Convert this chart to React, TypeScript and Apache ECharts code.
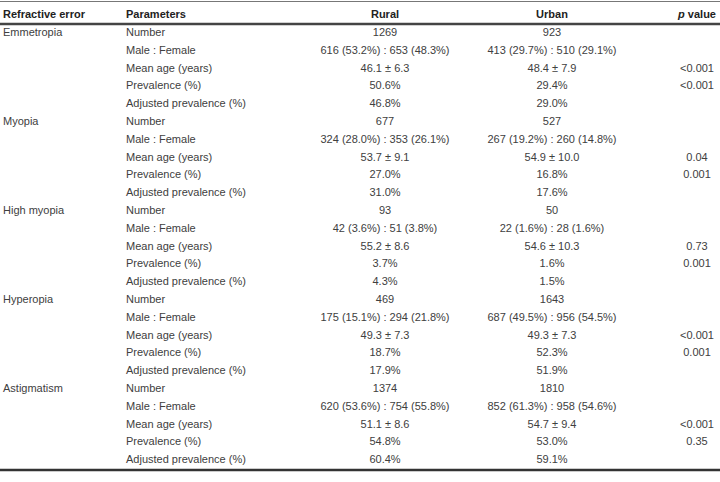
import React, { useEffect, useRef } from "react";
import * as echarts from "echarts";

const headers = ["Refractive error", "Parameters", "Rural", "Urban", "{i|p} value"];
const errors = ["Emmetropia", "Myopia", "High myopia", "Hyperopia", "Astigmatism"];
const parameters = ["Number", "Male : Female", "Mean age (years)", "Prevalence (%)", "Adjusted prevalence (%)"];
const rural = [
  ["1269", "616 (53.2%) : 653 (48.3%)", "46.1 ± 6.3", "50.6%", "46.8%"],
  ["677", "324 (28.0%) : 353 (26.1%)", "53.7 ± 9.1", "27.0%", "31.0%"],
  ["93", "42 (3.6%) : 51 (3.8%)", "55.2 ± 8.6", "3.7%", "4.3%"],
  ["469", "175 (15.1%) : 294 (21.8%)", "49.3 ± 7.3", "18.7%", "17.9%"],
  ["1374", "620 (53.6%) : 754 (55.8%)", "51.1 ± 8.6", "54.8%", "60.4%"],
];
const urban = [
  ["923", "413 (29.7%) : 510 (29.1%)", "48.4 ± 7.9", "29.4%", "29.0%"],
  ["527", "267 (19.2%) : 260 (14.8%)", "54.9 ± 10.0", "16.8%", "17.6%"],
  ["50", "22 (1.6%) : 28 (1.6%)", "54.6 ± 10.3", "1.6%", "1.5%"],
  ["1643", "687 (49.5%) : 956 (54.5%)", "49.3 ± 7.3", "52.3%", "51.9%"],
  ["1810", "852 (61.3%) : 958 (54.6%)", "54.7 ± 9.4", "53.0%", "59.1%"],
];
const pValues = [
  ["", "", "<0.001", "<0.001", ""],
  ["", "", "0.04", "0.001", ""],
  ["", "", "0.73", "0.001", ""],
  ["", "", "<0.001", "0.001", ""],
  ["", "", "<0.001", "0.35", ""],
];

const FONT = "'Liberation Sans', Arial, Helvetica, sans-serif";

export default function App() {
  const ref = useRef<HTMLDivElement>(null);
  useEffect(() => {
    if (!ref.current) return;
    const chart = echarts.init(ref.current, undefined, { renderer: "svg" });

    const rows: { key: string; cells: string[] }[] = [];
    errors.forEach((err, g) => {
      parameters.forEach((par, p) => {
        rows.push({
          key: `${g}-${p}`,
          cells: [p === 0 ? err : "", par, rural[g][p], urban[g][p], pValues[g][p]],
        });
      });
    });

    const colX = [3, 126, 385, 552, 697];
    const colAlign = ["left", "left", "center", "center", "center"];

    const ROW_H = 17.8;
    const GRID_TOP = 32 - ROW_H / 2;
    const GRID_H = ROW_H * rows.length;

    const option: any = {
      animation: false,
      grid: { left: 0, right: 0, top: GRID_TOP, height: GRID_H },
      xAxis: { type: "value", min: 0, max: 720, show: false },
      yAxis: {
        type: "category",
        data: rows.map((r) => r.key),
        inverse: true,
        show: false,
      },
      graphic: [
        { type: "line", shape: { x1: 0, y1: 1.5, x2: 720, y2: 1.5 }, style: { stroke: "#777", lineWidth: 1 } },
        { type: "line", shape: { x1: 0, y1: 24, x2: 720, y2: 24 }, style: { stroke: "#444", lineWidth: 2.5 } },
        { type: "line", shape: { x1: 0, y1: 470, x2: 720, y2: 470 }, style: { stroke: "#333", lineWidth: 2.5 } },
        ...headers.map((h, i) => ({
          type: "text",
          x: colX[i],
          y: 14,
          style: {
            text: h,
            fill: "#222",
            fontSize: 11,
            fontWeight: "bold",
            fontFamily: FONT,
            align: colAlign[i],
            verticalAlign: "middle",
            rich: { i: { fontStyle: "italic", fontWeight: "bold", fontSize: 11, fontFamily: FONT, fill: "#222" } },
          },
        })),
      ],
      series: [
        {
          type: "custom",
          coordinateSystem: "cartesian2d",
          data: rows.map((r, i) => [0, i]),
          renderItem: (params: any, api: any) => {
            const idx = api.value(1);
            const row = rows[idx];
            const children = row.cells.map((c, j) => {
              const pt = api.coord([colX[j], idx]);
              return {
                type: "text",
                x: pt[0],
                y: pt[1],
                style: {
                  text: c,
                  fill: "#404040",
                  fontSize: 11,
                  fontFamily: FONT,
                  align: colAlign[j],
                  verticalAlign: "middle",
                },
              };
            });
            return { type: "group", children };
          },
        },
      ],
    };
    chart.setOption(option);
    return () => chart.dispose();
  }, []);
  return (
    <div
      ref={ref}
      style={{ position: "fixed", left: 0, top: 0, width: 720, height: 482, background: "#fff" }}
    />
  );
}
